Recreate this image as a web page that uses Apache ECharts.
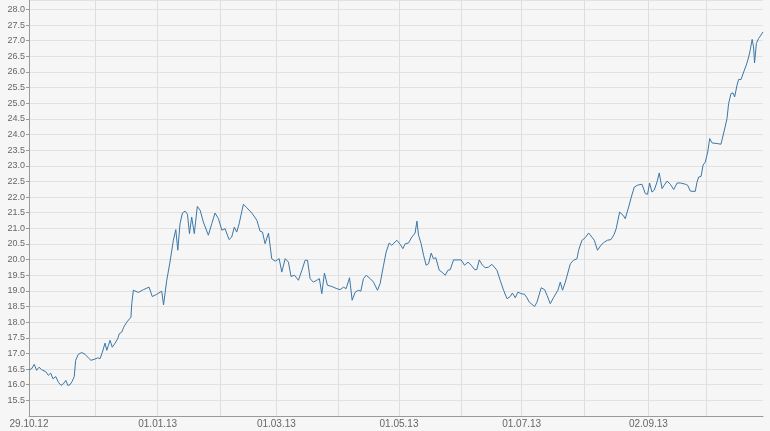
<!DOCTYPE html>
<html>
<head>
<meta charset="utf-8">
<script src="https://cdn.jsdelivr.net/npm/echarts@6/dist/echarts.min.js"></script>
<style>
  html, body { margin: 0; padding: 0; background: #f6f6f6; }
  #chart { width: 770px; height: 431px; }
</style>
</head>
<body>
<div id="chart"></div>
<script>
// days after 29.10.12 and closing price
var dayOffsets = [
  0.0, 1.3, 2.6, 3.8, 5.0, 6.3, 8.3, 9.6, 10.8, 11.9, 13.3, 14.6, 15.9, 17.1, 18.3, 19.3, 20.4, 21.5, 22.5, 23.2,
  24.5, 26.2, 27.9, 29.5, 30.8, 32.8, 34.2, 35.3, 36.5, 37.8, 38.7, 39.5, 40.3, 41.4, 42.8, 44.1, 44.9, 46.1, 47.1, 48.6,
  50.7, 51.1, 51.9, 54.4, 56.9, 59.7, 61.3, 63.5, 66.0, 66.9,
  68.5, 70.1, 71.8, 73.0, 74.0, 75.1, 76.3, 77.6, 78.8, 79.8, 80.9, 82.2, 83.7, 85.1, 86.7, 89.2, 90.9, 92.5, 94.2, 95.9,
  97.5, 99.5, 100.8, 102.1, 103.3, 104.5, 106.6, 108.3, 110.8, 113.3, 114.9, 116.1, 117.4, 119.1, 120.7, 122.4, 124.4, 125.7, 127.4, 129.0,
  130.3, 132.0,
  134.0, 135.7, 137.3, 138.5, 139.8, 141.4, 143.1, 144.4, 145.6, 146.9, 148.4, 150.6, 153.1, 154.7, 156.4, 157.7, 159.4, 160.7, 162.2, 163.8,
  165.0, 166.3, 167.7, 169.7, 171.3, 173.3, 174.6, 176.3, 177.6, 179.1, 180.4, 182.9, 184.6, 185.9, 187.1, 188.7, 190.4, 192.0, 192.9, 193.7,
  195.0, 196.2, 197.5, 198.7,
  200.0, 201.1, 202.3, 204.0, 205.3, 207.0, 208.3, 209.5, 211.1, 212.8, 214.9, 216.6, 218.3, 219.9, 221.6, 222.7, 223.9, 225.5, 226.9, 228.5,
  230.2, 231.0, 232.7, 234.3, 236.0, 237.7, 239.3, 240.4, 241.8, 243.1, 244.8, 246.4, 247.6, 248.8, 250.1, 251.4, 252.6, 254.7, 256.4, 257.6,
  259.2, 260.8, 263.0, 264.2, 265.3, 266.7,
  269.2, 270.8, 272.5, 273.3, 275.0, 276.6, 278.3, 279.9, 281.1, 282.7, 284.4, 286.1, 287.7, 289.4, 291.0, 292.0, 293.7, 295.4, 296.5, 298.2,
  299.5, 301.0, 302.6, 304.8, 306.5, 307.6, 308.6, 309.8, 310.9, 312.3, 313.4, 314.8, 315.9, 317.3, 318.9, 320.6, 322.3, 323.9, 326.4, 327.5,
  328.9, 331.3, 332.2, 333.0, 334.2, 335.2, 336.3, 337.5, 338.5, 339.7, 342.2, 344.1, 345.8, 347.1, 347.9, 349.1, 350.1, 350.9, 352.1, 352.9,
  354.1, 355.4, 356.7, 357.9, 358.7, 359.6, 360.3, 360.8, 361.7, 362.8, 364.0, 365.0
];
var prices = [
  16.48, 16.51, 16.65, 16.46, 16.56, 16.48, 16.42, 16.30, 16.37, 16.19, 16.26, 16.08, 15.98, 16.03, 16.14, 15.98, 16.00, 16.11, 16.26, 16.78,
  16.97, 17.03, 16.97, 16.86, 16.78, 16.82, 16.86, 16.83, 17.04, 17.33, 17.10, 17.26, 17.42, 17.20, 17.33, 17.47, 17.63, 17.68, 17.84, 18.00,
  18.16, 18.59, 19.02, 18.95, 19.04, 19.12, 18.82, 18.89, 18.99, 18.55,
  19.34, 19.92, 20.62, 20.96, 20.30, 21.15, 21.49, 21.55, 21.45, 20.83, 21.36, 20.83, 21.70, 21.58, 21.20, 20.78, 21.15, 21.49, 21.31, 20.94,
  20.99, 20.64, 20.72, 21.04, 20.88, 21.15, 21.77, 21.66, 21.49, 21.26, 20.91, 20.88, 20.51, 20.85, 20.03, 19.95, 20.03, 19.60, 20.03, 19.92,
  19.46, 19.50,
  19.34, 19.66, 19.98, 19.98, 19.39, 19.28, 19.34, 19.39, 18.91, 19.57, 19.18, 19.14, 19.07, 19.04, 19.12, 19.07, 19.42, 18.70, 18.96, 19.02,
  18.99, 19.39, 19.50, 19.39, 19.28, 19.02, 19.23, 19.82, 20.24, 20.53, 20.46, 20.62, 20.49, 20.35, 20.51, 20.53, 20.72, 20.85, 21.23, 20.78,
  20.51, 20.14, 19.82, 19.87,
  20.21, 20.03, 20.06, 19.66, 19.60, 19.50, 19.66, 19.68, 19.99, 19.99, 19.99, 19.82, 19.92, 19.82, 19.68, 19.68, 19.99, 19.82, 19.74, 19.76,
  19.85, 19.89, 19.66, 19.34, 19.02, 18.75, 18.82, 18.93, 18.78, 18.96, 18.91, 18.89, 18.78, 18.64, 18.57, 18.50, 18.64, 19.10, 19.04, 18.86,
  18.59, 18.78, 19.02, 19.28, 19.02, 19.28,
  19.87, 19.98, 20.03, 20.30, 20.62, 20.70, 20.85, 20.72, 20.62, 20.30, 20.46, 20.56, 20.62, 20.64, 20.81, 20.99, 21.52, 21.42, 21.31, 21.68,
  22.00, 22.32, 22.38, 22.41, 22.11, 22.09, 22.45, 22.16, 22.22, 22.48, 22.77, 22.27, 22.38, 22.51, 22.41, 22.24, 22.45, 22.45, 22.41, 22.38,
  22.19, 22.18, 22.48, 22.64, 22.66, 23.02, 23.12, 23.44, 23.87, 23.73, 23.71, 23.69, 24.14, 24.51, 24.99, 25.31, 25.33, 25.20, 25.58, 25.76,
  25.76, 26.00, 26.22, 26.48, 26.72, 27.04, 26.80, 26.29, 26.91, 27.07, 27.18, 27.28
];
// grid lines (month starts) and the dates that get a label
var gridDates = ['2012-10-29', '2012-12-01', '2013-01-01', '2013-02-01', '2013-03-01', '2013-04-01',
  '2013-05-01', '2013-06-01', '2013-07-01', '2013-08-01', '2013-09-02', '2013-10-01'];
var labelDates = ['2012-10-29', '2013-01-01', '2013-03-01', '2013-05-01', '2013-07-01', '2013-09-02'];

function toTime(s) {
  var p = s.split('-');
  return new Date(+p[0], +p[1] - 1, +p[2]).getTime();
}
function pad(n) { return n < 10 ? '0' + n : '' + n; }

var start = toTime('2012-10-29');
var DAY = 86400000;
var seriesData = dayOffsets.map(function (d, i) {
  return [start + d * DAY, prices[i]];
});

var chart = echarts.init(document.getElementById('chart'));
chart.setOption({
  animation: false,
  backgroundColor: '#f6f6f6',
  grid: { left: 29, right: 7, top: 0, bottom: 15 },
  xAxis: {
    // plain value axis holding timestamps, so the month lines can be placed by hand
    type: 'value',
    min: start,
    max: start + 365 * DAY,
    axisLine: { lineStyle: { color: '#9a9a9a', width: 1 } },
    axisTick: { show: false, customValues: gridDates.map(toTime) },
    splitLine: { show: true, lineStyle: { color: '#dedede', width: 1 } },
    axisLabel: {
      customValues: labelDates.map(toTime),
      color: '#666',
      fontFamily: 'Liberation Sans',
      fontSize: 10,
      margin: 3,
      formatter: function (v) {
        var d = new Date(v);
        return pad(d.getDate()) + '.' + pad(d.getMonth() + 1) + '.' + pad(d.getFullYear() % 100);
      }
    }
  },
  yAxis: {
    type: 'value',
    min: 15,
    max: 28.3,
    interval: 0.5,
    axisLine: { show: true, lineStyle: { color: '#9a9a9a', width: 1 } },
    axisTick: { show: true, length: 3, lineStyle: { color: '#9a9a9a' } },
    splitLine: { show: true, lineStyle: { color: '#e2e2e2', width: 1 } },
    axisLabel: {
      showMinLabel: false,
      showMaxLabel: false,
      color: '#666',
      fontFamily: 'Liberation Sans',
      fontSize: 9,
      margin: 4,
      formatter: function (v) { return v.toFixed(1); }
    }
  },
  series: [{
    type: 'line',
    data: seriesData,
    showSymbol: false,
    lineStyle: { color: '#3b77a6', width: 1 },
    itemStyle: { color: '#3b77a6' }
  }]
});
</script>
</body>
</html>
